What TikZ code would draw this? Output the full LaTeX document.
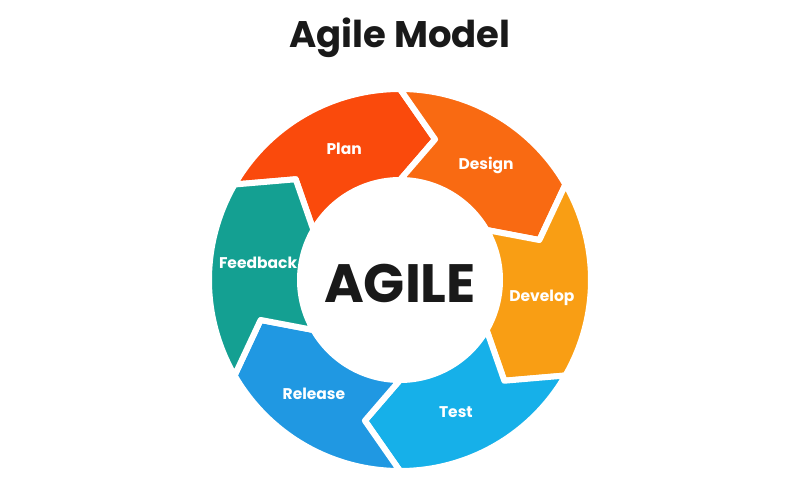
\documentclass[tikz,border=0pt]{standalone}
\usepackage{fontspec}
\setmainfont{Poppins}

\definecolor{planred}{RGB}{250,74,12}
\definecolor{designorange}{RGB}{249,106,18}
\definecolor{developamber}{RGB}{249,158,20}
\definecolor{testcyan}{RGB}{22,176,233}
\definecolor{releaseblue}{RGB}{32,152,226}
\definecolor{feedbackteal}{RGB}{20,160,146}

\begin{document}
\begin{tikzpicture}[x=1pt,y=1pt,
seg/.style={draw=white,line width=6pt,line join=round},
steplabel/.style={text=white,font=\bfseries\fontsize{15.5}{18}\selectfont}]
\useasboundingbox (-400,-220) rectangle (400,280);
% one arrow per phase, clockwise from the top left
\foreach \name/\txt/\col/\a in {plan/Plan/planred/150,
    design/Design/designorange/90,
    develop/Develop/developamber/30,
    test/Test/testcyan/-30,
    release/Release/releaseblue/-90,
    feedback/Feedback/feedbackteal/-150}{
  \pgfmathsetmacro\b{\a-60}
  \pgfmathsetmacro\m{\a-37}
  \path[seg,fill=\col] (\a:191) arc[start angle=\a,end angle=\b,radius=191pt]
    -- (\b-14:145) -- (\b:100) arc[start angle=\b,end angle=\a,radius=100pt]
    -- (\a-14:145) -- cycle;
  \node[steplabel] (\name) at (\m:143) {\txt};
}
\node (agile) [text=black!90] at (0,-3) {\bfseries\fontsize{54}{60}\selectfont AGILE};
\node (title) [text=black!90] at (0,242) {\bfseries\fontsize{37}{42}\selectfont Agile Model};
\end{tikzpicture}
\end{document}
